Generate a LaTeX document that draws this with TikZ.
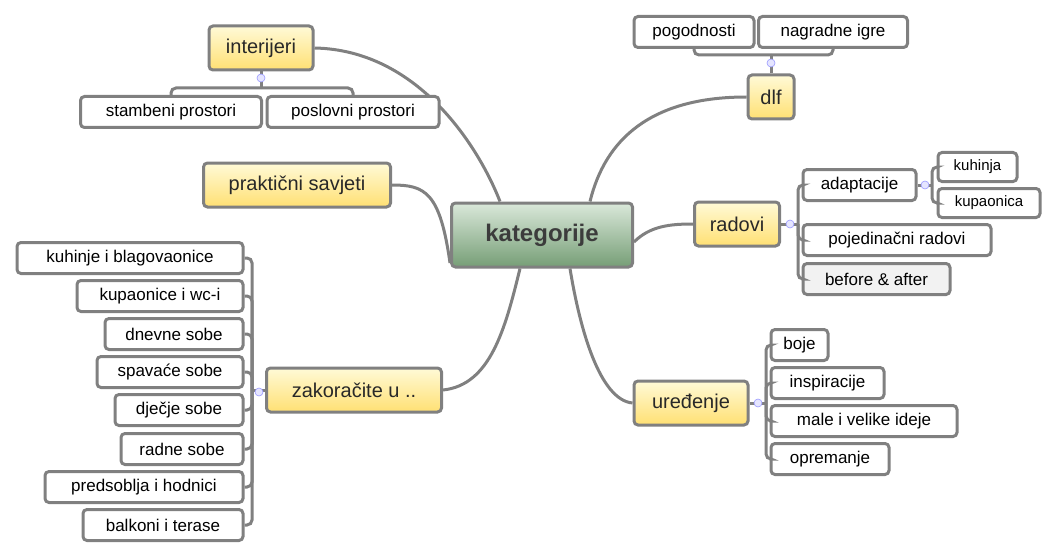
\documentclass[tikz,border=0pt]{standalone}
\usepackage{fontspec}
\setmainfont{Liberation Sans}
\begin{document}
\begin{tikzpicture}[x=1pt,y=-1pt,
  every node/.style={inner sep=0pt},
  base/.style={draw=lgray,line width=3pt,rounded corners=4pt,minimum height=31pt,font=\fontsize{17}{18}\selectfont},
  leaf/.style={base,fill=white,text=black},
  topic/.style={base,minimum height=44pt,top color=ytop,bottom color=ybot,font=\fontsize{20}{22}\selectfont,text=tdark},
  con/.style={draw=lgray,line width=3pt},
  br/.style={draw=lgray,line width=3pt,rounded corners=5pt},
  knob/.style={circle,draw=blue!40,fill=blue!10,line width=0.6pt,minimum size=8pt}]
\definecolor{lgray}{RGB}{128,128,128}
\definecolor{ytop}{RGB}{255,250,215}
\definecolor{ybot}{RGB}{255,224,115}
\definecolor{tdark}{RGB}{40,40,40}
\definecolor{gtop}{RGB}{218,232,218}
\definecolor{gbot}{RGB}{118,158,118}
\useasboundingbox (0,0) rectangle (1060,559);
% center
\node[base,minimum width=181,minimum height=64,top color=gtop,bottom color=gbot,font=\fontsize{24}{26}\selectfont\bfseries,text={rgb,255:red,60;green,60;blue,60}] (c) at (542,235) {kategorije};
% topics
\node[topic,minimum width=104] (int) at (261,48) {interijeri};
\node[topic,minimum width=187] (pr) at (297,185) {praktični savjeti};
\node[topic,minimum width=175] (zak) at (354,390) {zakoračite u ..};
\node[topic,minimum width=46] (dlf) at (771,97) {dlf};
\node[topic,minimum width=85] (rad) at (737,224) {radovi};
\node[topic,minimum width=114] (ure) at (691,403) {uređenje};
% center connectors
\draw[con] (int.east) .. controls (420,50) and (480,150) .. ([xshift=-42pt]c.north);
\draw[con] (pr.east) .. controls (425,185) and (440,192) .. ([yshift=-28pt]c.west);
\draw[con] (zak.east) .. controls (490,385) and (505,330) .. ([xshift=-22pt]c.south);
\draw[con] (dlf.west) .. controls (650,97) and (605,140) .. ([xshift=48pt]c.north);
\draw[con] (rad.west) .. controls (670,224) and (650,226) .. ([yshift=-7pt]c.east);
\draw[con] (ure.west) .. controls (600,400) and (580,330) .. ([xshift=28pt]c.south);
% interijeri children
\node[leaf,minimum width=181] (sp) at (171,112) {stambeni prostori};
\node[leaf,minimum width=172] (pp) at (353,112) {poslovni prostori};
\coordinate (ib) at (261,88);
\draw[con] (int.south) -- (ib);
\draw[br] (ib) -| (sp.north);
\draw[br] (ib) -| (pp.north);
\node[knob] at (261,78) {};
% dlf children
\node[leaf,minimum width=120] (pog) at (694,32) {pogodnosti};
\node[leaf,minimum width=149] (ng) at (833,32) {nagradne igre};
\coordinate (db) at (771,55);
\draw[con] (dlf.north) -- (db);
\draw[br] (db) -| (pog.south);
\draw[br] (db) -| (ng.south);
\node[knob] at (771,63) {};
% radovi children
\node[leaf,minimum width=113] (ad) at (859.5,185) {adaptacije};
\node[leaf,minimum width=188] (pj) at (897,240) {pojedinačni radovi};
\node[leaf,minimum width=147,fill={rgb,255:red,242;green,242;blue,242}] (ba) at (876.5,279) {before \& after};
\coordinate (rb) at (798,224);
\draw[con] (rad.east) -- (rb);
\foreach \n in {ad,pj,ba} \draw[br] (rb) |- (\n.west);
\node[knob] at (790,224) {};
% adaptacije children
\node[leaf,minimum width=79,minimum height=29,font=\fontsize{15}{16}\selectfont] (ku) at (977.5,167) {kuhinja};
\node[leaf,minimum width=102,minimum height=29,font=\fontsize{15}{16}\selectfont] (kp) at (989,203) {kupaonica};
\coordinate (ab) at (932,185);
\draw[con] (ad.east) -- (ab);
\foreach \n in {ku,kp} \draw[br] (ab) |- (\n.west);
\node[knob] at (925,185) {};
% uredjenje children
\node[leaf,minimum width=57] (bo) at (799.5,345) {boje};
\node[leaf,minimum width=113] (in) at (827.5,383) {inspiracije};
\node[leaf,minimum width=186] (mv) at (864,421) {male i velike ideje};
\node[leaf,minimum width=118] (op) at (830,459) {opremanje};
\coordinate (ub) at (766,403);
\draw[con] (ure.east) -- (ub);
\foreach \n in {bo,in,mv,op} \draw[br] (ub) |- (\n.west);
\node[knob] at (758,403) {};
% zakoracite children
\node[leaf,minimum width=226] (z1) at (130,258) {kuhinje i blagovaonice};
\node[leaf,minimum width=166] (z2) at (160,296) {kupaonice i wc-i};
\node[leaf,minimum width=138] (z3) at (174,334) {dnevne sobe};
\node[leaf,minimum width=146] (z4) at (170,372) {spavaće sobe};
\node[leaf,minimum width=128] (z5) at (179,410) {dječje sobe};
\node[leaf,minimum width=122] (z6) at (182,449) {radne sobe};
\node[leaf,minimum width=198] (z7) at (144,487) {predsoblja i hodnici};
\node[leaf,minimum width=160] (z8) at (163,525) {balkoni i terase};
\coordinate (zb) at (252,390);
\draw[con] (zak.west) -- (zb);
\foreach \n in {z1,z2,z3,z4,z5,z6,z7,z8} \draw[br] (zb) |- (\n.east);
\node[knob] at (259,392) {};
\end{tikzpicture}
\end{document}
